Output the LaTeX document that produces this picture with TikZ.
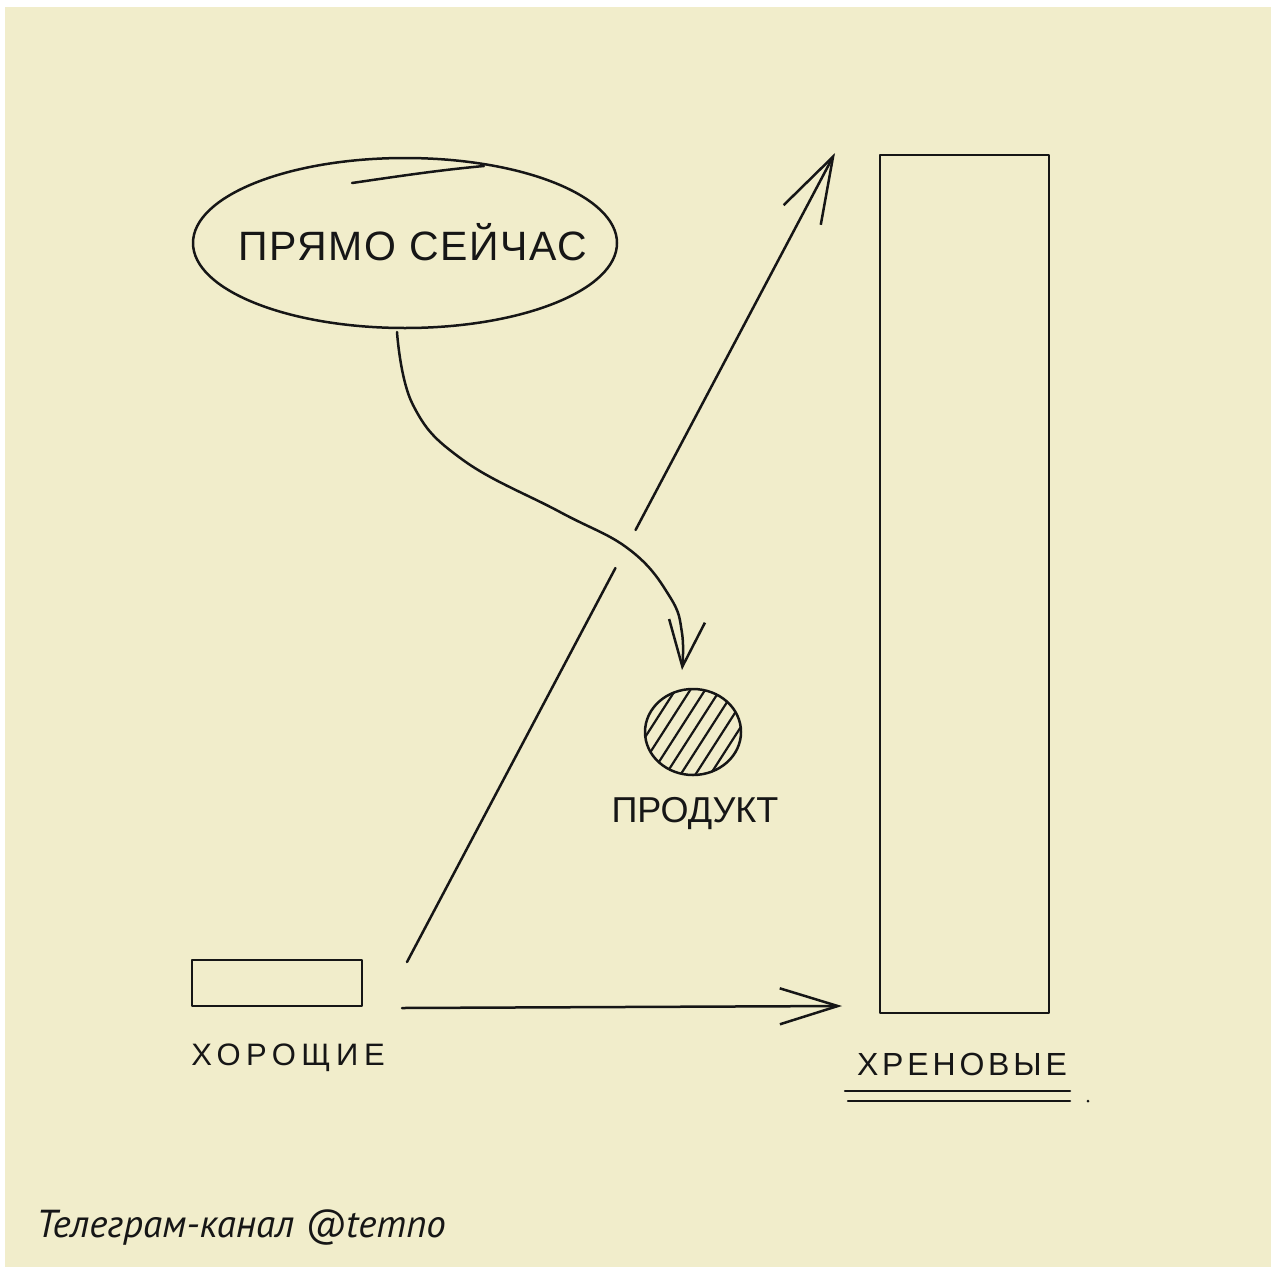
\documentclass[tikz,border=0pt]{standalone}
\usepackage{fontspec}
\setmainfont{Liberation Sans}
\newfontfamily\footfont{PT Sans}
\usetikzlibrary{arrows.meta,shapes.geometric,calc}
\definecolor{paper}{RGB}{241,237,203}
\definecolor{ink}{RGB}{22,22,22}
\begin{document}
\begin{tikzpicture}[x=1pt,y=-1pt, line width=2.5pt, line join=round, line cap=round, draw=ink, text=ink,
  handtext/.style={inner sep=0pt, anchor=base, text=ink},
  box/.style={draw=ink, line width=2.5pt, inner sep=0pt},
  bigbarb/.style={-{Straight Barb[length=66pt,width=42pt]}},
  midbarb/.style={-{Straight Barb[length=58pt,width=36pt]}},
  smallbarb/.style={-{Straight Barb[length=46pt,width=36pt]}}]
\useasboundingbox (0,0) rectangle (1271,1269);
\fill[white] (0,0) rectangle (1271,1269);
\fill[paper] (5,7) rectangle (1271,1267);

% ellipse "right now"
\node[ellipse, box, minimum width=424pt, minimum height=170pt] (now) at (405,243) {};
\draw[ink] (352,183) .. controls (400,176) and (440,170) .. (484,166);
\node[handtext, font=\fontsize{41}{41}\selectfont\addfontfeature{LetterSpace=4}] (nowtext) at (413,260) {ПРЯМО СЕЙЧАС};

% product
\node[ellipse, box, minimum width=96pt, minimum height=86pt] (prod) at (693,732) {};
\begin{scope}
  \clip (693,732) ellipse [x radius=48, y radius=43];
  \foreach \k in {-4,...,4} {
    \draw[ink, line width=2.2pt] ([shift={(\k*10.5-34,\k*6.8+53)}]prod.center) -- ([shift={(\k*10.5+34,\k*6.8-53)}]prod.center);
  }
\end{scope}
\node[handtext, font=\fontsize{36}{36}\selectfont] (prodtext) at (695,822) {ПРОДУКТ};

% curved arrow from ellipse to product
\coordinate (c0) at (397,332);
\coordinate (c1) at (682,670);
\draw[ink, smallbarb] plot[smooth, tension=0.7] coordinates {(c0) (413,405) (463,460) (560,512) (630,550) (670,597) (682,633) (c1)};

% good (small) box
\node[box, minimum width=170pt, minimum height=46pt] (good) at (277,983) {};
\node[handtext, font=\fontsize{31}{31}\selectfont\addfontfeature{LetterSpace=18}] (goodtext) at (288,1065) {ХОРОЩИЕ};

% bad (tall) box
\node[box, minimum width=169pt, minimum height=858pt] (bad) at (964.5,584) {};
\node[handtext, font=\fontsize{32}{32}\selectfont\addfontfeature{LetterSpace=12}] (badtext) at (962,1075) {ХРЕНОВЫЕ};
\coordinate (u0) at (845,1091);
\coordinate (u1) at (1070,1091);
\coordinate (u2) at (848,1101);
\coordinate (u3) at (1070,1101);
\draw[ink] (u0) -- (u1);
\draw[ink] (u2) -- (u3);
\fill[ink] (1088,1101) circle (1.5);

% diagonal arrow (with a gap where the curve crosses)
\coordinate (d0) at (407,962);
\coordinate (d1) at (835,153);
\coordinate (g1) at ($(d0)!0.487!(d1)$);
\coordinate (g2) at ($(d0)!0.534!(d1)$);
\draw[ink] (d0) -- (g1);
\draw[ink, bigbarb] (g2) -- (d1);

% horizontal arrow
\coordinate (h0) at (402,1008);
\coordinate (h1) at (842,1006);
\draw[ink, midbarb] (h0) -- (h1);

% footer
\node[inner sep=0pt, anchor=base west, text=ink, font=\footfont\itshape\fontsize{39}{39}\selectfont] (footer) at (35,1237) {Телеграм-канал @temno};
\end{tikzpicture}
\end{document}
